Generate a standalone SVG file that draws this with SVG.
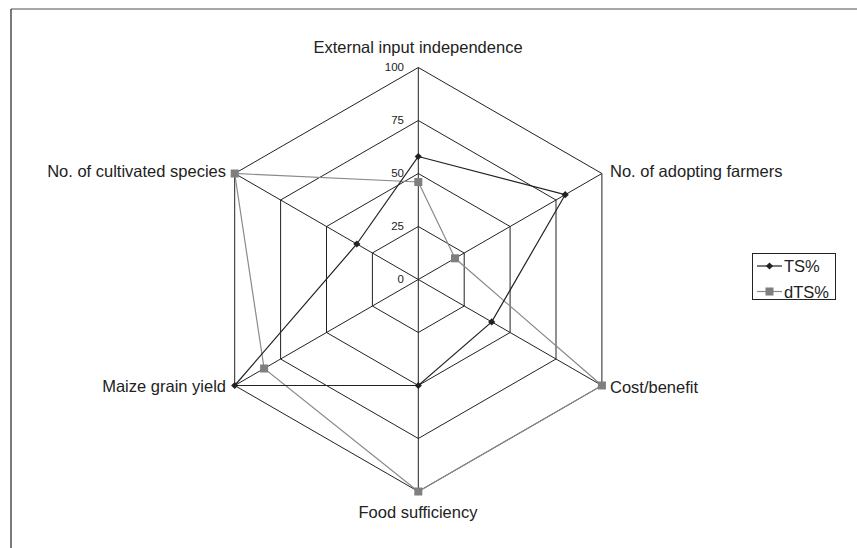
<svg xmlns="http://www.w3.org/2000/svg" width="857" height="548" viewBox="0 0 857 548">
<style>
text{font-family:"Liberation Sans",Arial,sans-serif;fill:#222}
.lab{font-size:16.5px}
.tick{font-size:11.5px;text-anchor:end}
.grid{fill:none;stroke:#222;stroke-width:1}
.ts{fill:none;stroke:#222;stroke-width:1.2}
.dts{fill:none;stroke:#8a8a8a;stroke-width:1.2}
.dia{fill:#222}
.sq{fill:#7f7f7f}
</style>
<defs>
<path id="d" d="M0,-3.6 L3.6,0 L0,3.6 L-3.6,0Z" class="dia"/>
<rect id="s" x="-4" y="-4" width="8" height="8" class="sq"/>
</defs>
<rect width="857" height="548" fill="#fff"/>
<g id="frame">
<line x1="11" y1="9" x2="857" y2="9" stroke="#8a8a8a" stroke-width="1.5"/>
<line x1="11" y1="9" x2="11" y2="548" stroke="#222" stroke-width="1.2"/>
</g>
<g id="grid">
<polygon class="grid" points="418.3,67.5 601.9,173.5 601.9,385.5 418.3,491.5 234.7,385.5 234.7,173.5"/>
<polygon class="grid" points="418.3,120.5 556,200 556,359 418.3,438.5 280.6,359 280.6,200"/>
<polygon class="grid" points="418.3,173.5 510.1,226.5 510.1,332.5 418.3,385.5 326.5,332.5 326.5,226.5"/>
<polygon class="grid" points="418.3,226.5 464.2,253 464.2,306 418.3,332.5 372.4,306 372.4,253"/>
<path class="grid" d="M418.3,279.5V67.5M418.3,279.5L601.9,173.5M418.3,279.5L601.9,385.5M418.3,279.5V491.5M418.3,279.5L234.7,385.5M418.3,279.5L234.7,173.5"/>
<text class="tick" x="404" y="71">100</text>
<text class="tick" x="404" y="124">75</text>
<text class="tick" x="404" y="177">50</text>
<text class="tick" x="404" y="230">25</text>
<text class="tick" x="404" y="283">0</text>
</g>
<g id="axis-labels">
<text class="lab" x="418" y="52.5" text-anchor="middle">External input independence</text>
<text class="lab" x="610" y="176.5">No. of adopting farmers</text>
<text class="lab" x="610" y="393">Cost/benefit</text>
<text class="lab" x="418" y="517.5" text-anchor="middle">Food sufficiency</text>
<text class="lab" x="226" y="392" text-anchor="end">Maize grain yield</text>
<text class="lab" x="226" y="176.5" text-anchor="end">No. of cultivated species</text>
</g>
<g id="series-dts">
<polygon class="dts" points="418.3,182 455,258.3 601.9,385.5 418.3,491.5 264.1,368.5 234.7,173.5"/>
<use href="#s" x="418.3" y="182"/>
<use href="#s" x="455" y="258.3"/>
<use href="#s" x="601.9" y="385.5"/>
<use href="#s" x="418.3" y="491.5"/>
<use href="#s" x="264.1" y="368.5"/>
<use href="#s" x="234.7" y="173.5"/>
</g>
<g id="series-ts">
<polygon class="ts" points="418.3,156.5 565.2,194.7 491.7,321.9 418.3,385.5 234.7,385.5 356.8,244"/>
<use href="#d" x="418.3" y="156.5"/>
<use href="#d" x="565.2" y="194.7"/>
<use href="#d" x="491.7" y="321.9"/>
<use href="#d" x="418.3" y="385.5"/>
<use href="#d" x="234.7" y="385.5"/>
<use href="#d" x="356.8" y="244"/>
</g>
<g id="legend">
<rect x="752.5" y="253.5" width="83" height="46" fill="#fff" stroke="#222" stroke-width="1"/>
<line x1="757" y1="266" x2="782" y2="266" stroke="#222" stroke-width="1.2"/>
<use href="#d" x="769.5" y="266"/>
<text class="lab" x="784" y="272">TS%</text>
<line x1="757" y1="291.5" x2="782" y2="291.5" stroke="#8a8a8a" stroke-width="1.2"/>
<use href="#s" x="769.5" y="291.5"/>
<text class="lab" x="784" y="297.5">dTS%</text>
</g>
</svg>
